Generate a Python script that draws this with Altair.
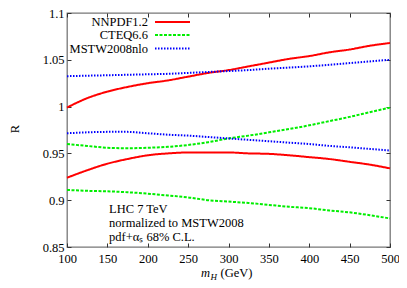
import altair as alt
import pandas as pd

# ---- data ----
mH = [100, 125, 150, 175, 200, 225, 250, 275, 300, 325, 350, 375, 400, 425, 450, 475, 500]

nnpdf_up = [0.999, 1.009, 1.016, 1.021, 1.025, 1.028, 1.032, 1.036, 1.039, 1.043, 1.047, 1.051, 1.054, 1.058, 1.061, 1.065, 1.068]
nnpdf_lo = [0.924, 0.932, 0.939, 0.944, 0.948, 0.950, 0.951, 0.951, 0.951, 0.950, 0.9495, 0.948, 0.946, 0.944, 0.941, 0.938, 0.934]
cteq_up = [0.960, 0.958, 0.956, 0.9555, 0.956, 0.957, 0.959, 0.962, 0.966, 0.969, 0.9725, 0.976, 0.980, 0.9845, 0.989, 0.994, 0.999]
cteq_lo = [0.911, 0.910, 0.9095, 0.9085, 0.907, 0.905, 0.903, 0.900, 0.8985, 0.897, 0.895, 0.893, 0.8915, 0.889, 0.887, 0.884, 0.8805]
mstw_up = [1.0325, 1.033, 1.0335, 1.034, 1.0345, 1.035, 1.036, 1.037, 1.038, 1.039, 1.0405, 1.0417, 1.043, 1.0447, 1.0465, 1.0483, 1.050]
mstw_lo = [0.9715, 0.9725, 0.973, 0.973, 0.9715, 0.970, 0.969, 0.9675, 0.966, 0.9645, 0.963, 0.9615, 0.960, 0.958, 0.9565, 0.9548, 0.953]

series_names = ["NNPDF1.2", "CTEQ6.6", "MSTW2008nlo"]
series_colors = ["#ff0000", "#00ee00", "#0000ff"]
series_dash = [[1, 0], [3, 1.5], [1.5, 1.5]]

x_ticks = [100, 150, 200, 250, 300, 350, 400, 450, 500]
y_ticks = [0.85, 0.9, 0.95, 1.0, 1.05, 1.1]

notes = ["LHC 7 TeV", "normalized to MSTW2008", "pdf+\u03b1\u209b 68% C.L."]

rows = []
for name, up, lo in zip(series_names, [nnpdf_up, cteq_up, mstw_up], [nnpdf_lo, cteq_lo, mstw_lo]):
    for m, u, l in zip(mH, up, lo):
        rows.append({"mH": m, "R": u, "series": name, "band": "upper"})
        rows.append({"mH": m, "R": l, "series": name, "band": "lower"})
df = pd.DataFrame(rows)

FONT = "Liberation Serif"
FS = 12.5
TICKC = "#333333"

xscale = alt.Scale(domain=[100, 500], nice=False, zero=False)
yscale = alt.Scale(domain=[0.85, 1.1], nice=False, zero=False)

lines = alt.Chart(df).mark_line(strokeWidth=2, interpolate="monotone").encode(
    x=alt.X("mH:Q", scale=xscale, axis=alt.Axis(orient="bottom", values=x_ticks, ticks=False, domain=False,
                                                grid=False, title=None, labelFont=FONT, labelFontSize=FS,
                                                labelColor="black", labelPadding=5, labelFlush=False)),
    y=alt.Y("R:Q", scale=yscale, axis=alt.Axis(orient="left", values=y_ticks, ticks=False, domain=False,
                                               grid=False, title=None, labelFont=FONT, labelFontSize=FS,
                                               labelColor="black", labelPadding=3, format=".2~f",
                                               labelFlush=False)),
    color=alt.Color("series:N", scale=alt.Scale(domain=series_names, range=series_colors), legend=None),
    strokeDash=alt.StrokeDash("series:N", scale=alt.Scale(domain=series_names, range=series_dash), legend=None),
    detail="band:N",
)

def tick_layer(xo, yo):
    return alt.Chart(df).mark_point(opacity=0).encode(
        x=alt.X("mH:Q", scale=xscale, axis=alt.Axis(orient=xo, offset=-4, tickSize=4, values=x_ticks,
                                                    labels=False, domain=False, grid=False, title=None,
                                                    tickColor=TICKC, tickWidth=1)),
        y=alt.Y("R:Q", scale=yscale, axis=alt.Axis(orient=yo, offset=-4, tickSize=4, values=y_ticks,
                                                   labels=False, domain=False, grid=False, title=None,
                                                   tickColor=TICKC, tickWidth=1)),
    )

one = pd.DataFrame({"a": [0]})
layers = [lines, tick_layer("bottom", "left"), tick_layer("top", "right")]

# legend (manual, label left of sample line)
leg_y_text = [13, 26, 39.5]
leg_y_line = [9, 22, 35.5]
for name, col, dash, yt, yl in zip(series_names, series_colors, series_dash, leg_y_text, leg_y_line):
    layers.append(alt.Chart(one).mark_text(align="right", baseline="alphabetic", font=FONT, fontSize=FS,
                                           color="black").encode(
        x=alt.value(81), y=alt.value(yt), text=alt.value(name)))
    layers.append(alt.Chart(one).mark_rule(strokeWidth=2, color=col, strokeDash=dash).encode(
        x=alt.value(88), x2=alt.value(123), y=alt.value(yl)))

# annotation
for txt, yb in zip(notes, [200, 214, 227.5]):
    layers.append(alt.Chart(one).mark_text(align="left", baseline="alphabetic", font=FONT, fontSize=FS,
                                           color="black").encode(
        x=alt.value(42), y=alt.value(yb), text=alt.value(txt)))

# axis titles
layers.append(alt.Chart(one).mark_text(align="left", baseline="alphabetic", font=FONT, fontSize=FS,
                                       fontStyle="italic", color="black").encode(
    x=alt.value(134), y=alt.value(264), text=alt.value("m")))
layers.append(alt.Chart(one).mark_text(align="left", baseline="alphabetic", font=FONT, fontSize=9,
                                       fontStyle="italic", color="black").encode(
    x=alt.value(143.5), y=alt.value(266.5), text=alt.value("H")))
layers.append(alt.Chart(one).mark_text(align="left", baseline="alphabetic", font=FONT, fontSize=FS,
                                       color="black").encode(
    x=alt.value(153.5), y=alt.value(264), text=alt.value("(GeV)")))
layers.append(alt.Chart(one).mark_text(align="center", baseline="middle", font=FONT, fontSize=FS,
                                       angle=270, color="black").encode(
    x=alt.value(-52), y=alt.value(116), text=alt.value("R")))

chart = alt.layer(*layers).resolve_axis(x="independent", y="independent").properties(
    width=323, height=234, autosize="none",
    padding={"left": 59, "top": 5, "right": 9, "bottom": 33},
).configure_view(stroke="#777777", strokeWidth=1.3)

chart.save("out.html", embed_options={"renderer": "svg", "actions": False})
